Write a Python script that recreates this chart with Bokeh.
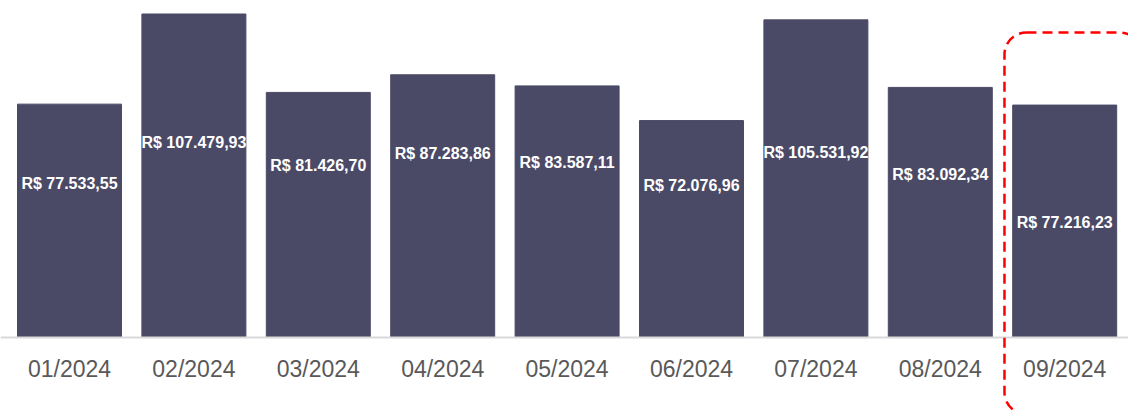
from bokeh.plotting import figure
from bokeh.models import ColumnDataSource, Range1d, Span, BoxAnnotation
from bokeh.core.properties import value
from bokeh.embed import file_html
from bokeh.resources import INLINE

months = ["01/2024", "02/2024", "03/2024", "04/2024", "05/2024",
          "06/2024", "07/2024", "08/2024", "09/2024"]
revenue = [77533.55, 107479.93, 81426.70, 87283.86, 83587.11,
           72076.96, 105531.92, 83092.34, 77216.23]
# relative height of each value label inside its bar
label_frac = [0.661, 0.602, 0.702, 0.700, 0.694, 0.700, 0.582, 0.652, 0.496]


def brl(v):
    s = f"{v:,.2f}"
    s = s.replace(",", "X").replace(".", ",").replace("X", ".")
    return "R$ " + s


xs = list(range(len(months)))
src = ColumnDataSource(dict(
    x=xs,
    top=revenue,
    ly=[v * f for v, f in zip(revenue, label_frac)],
    lbl=[brl(v) for v in revenue],
    month=months,
    my=[-10300] * len(months),
))

p = figure(width=1128, height=410, output_backend="svg", toolbar_location=None,
           x_range=Range1d(-0.5547, 8.513), y_range=Range1d(-24250, 111960),
           min_border=0, min_border_left=0, min_border_right=0,
           min_border_top=0, min_border_bottom=0)
p.axis.visible = False
p.grid.visible = False
p.outline_line_color = None
p.background_fill_color = "white"
p.border_fill_color = "white"

p.add_layout(Span(location=0, dimension="width", line_color="#D9D9D9", line_width=2))

p.vbar(x="x", top="top", bottom=0, width=0.836, source=src,
       fill_color="#4B4A66", line_color="#4B4A66")

p.text(x="x", y="ly", text="lbl", source=src, text_color="white",
       text_font=value("Liberation Sans"), text_font_style="bold",
       text_font_size="16px", text_align="center", text_baseline="middle")

p.text(x="x", y="my", text="month", source=src, text_color="#595959",
       text_font=value("Liberation Sans"), text_font_size="23px",
       text_align="center", text_baseline="middle")

box = BoxAnnotation(left=7.516, right=8.62, top=101330, bottom=-25500,
                    fill_alpha=0, line_color="#FF0000", line_alpha=1.0,
                    line_width=2.5, line_dash="10 6", border_radius=22)
p.add_layout(box)

open("out.html", "w").write(file_html(p, INLINE))
